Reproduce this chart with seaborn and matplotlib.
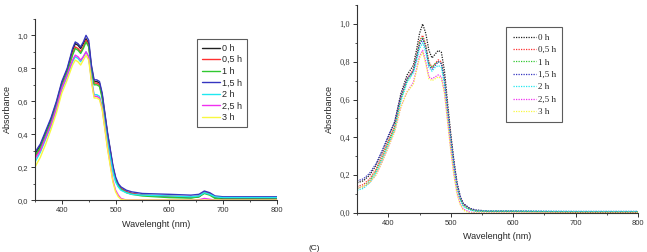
import seaborn as sns
import matplotlib.pyplot as plt
from matplotlib.ticker import MultipleLocator, FixedLocator

sns.set_style('ticks')
plt.rcParams['font.family'] = ['Liberation Sans', 'DejaVu Sans']

labels = ['0 h', '0,5 h', '1 h', '1,5 h', '2 h', '2,5 h', '3 h']
colors = ['#202020', '#ff3030', '#30c830', '#3535c0', '#20e8f0', '#f030f0', '#f8f840']

# left panel (solid lines)
wl_a = [350, 360, 370, 380, 390, 400, 410, 420, 425, 430, 435, 440, 445, 450, 455, 460,
        465, 470, 475, 480, 485, 490, 495, 500, 505, 510, 520, 530, 550, 600, 640, 655,
        665, 675, 685, 700, 750, 800]
a_0h = [0.28, 0.33, 0.41, 0.49, 0.59, 0.71, 0.79, 0.91, 0.95, 0.94, 0.92, 0.95, 0.98, 0.95, 0.81, 0.72,
        0.72, 0.71, 0.64, 0.52, 0.40, 0.30, 0.20, 0.13, 0.09, 0.07, 0.05, 0.04, 0.03, 0.02, 0.015, 0.02,
        0.045, 0.035, 0.015, 0.01, 0.01, 0.01]
a_05h = [0.26, 0.31, 0.39, 0.47, 0.57, 0.69, 0.77, 0.89, 0.93, 0.92, 0.90, 0.93, 0.97, 0.94, 0.80, 0.71,
         0.71, 0.70, 0.63, 0.51, 0.40, 0.30, 0.20, 0.13, 0.09, 0.07, 0.05, 0.04, 0.03, 0.025, 0.02, 0.025,
         0.05, 0.04, 0.02, 0.015, 0.015, 0.015]
a_1h = [0.27, 0.32, 0.40, 0.48, 0.58, 0.70, 0.78, 0.88, 0.92, 0.91, 0.89, 0.92, 0.96, 0.93, 0.79, 0.70,
        0.70, 0.69, 0.62, 0.50, 0.39, 0.29, 0.19, 0.12, 0.085, 0.065, 0.045, 0.035, 0.025, 0.015, 0.012, 0.02,
        0.04, 0.03, 0.01, 0.005, 0.005, 0.005]
a_15h = [0.29, 0.34, 0.42, 0.50, 0.60, 0.72, 0.80, 0.92, 0.96, 0.95, 0.93, 0.96, 1.00, 0.97, 0.82, 0.73,
         0.73, 0.72, 0.65, 0.53, 0.41, 0.31, 0.21, 0.14, 0.10, 0.08, 0.06, 0.05, 0.04, 0.035, 0.03, 0.035,
         0.055, 0.045, 0.025, 0.02, 0.02, 0.02]
a_2h = [0.23, 0.29, 0.37, 0.45, 0.55, 0.67, 0.75, 0.84, 0.87, 0.86, 0.84, 0.87, 0.90, 0.87, 0.74, 0.64,
        0.64, 0.63, 0.57, 0.46, 0.35, 0.26, 0.17, 0.11, 0.08, 0.06, 0.045, 0.035, 0.03, 0.025, 0.02, 0.025,
        0.045, 0.035, 0.02, 0.015, 0.015, 0.015]
a_25h = [0.25, 0.30, 0.38, 0.46, 0.56, 0.68, 0.76, 0.85, 0.88, 0.87, 0.85, 0.87, 0.90, 0.87, 0.73, 0.63,
         0.63, 0.62, 0.56, 0.44, 0.32, 0.22, 0.12, 0.06, 0.03, 0.01, 0.0, 0.0, 0.0, 0.0, 0.0, 0.002,
         0.01, 0.005, 0.0, 0.0, 0.0, 0.0]
a_3h = [0.20, 0.26, 0.34, 0.43, 0.53, 0.65, 0.73, 0.82, 0.85, 0.84, 0.82, 0.85, 0.88, 0.85, 0.72, 0.62,
        0.62, 0.61, 0.55, 0.43, 0.31, 0.21, 0.11, 0.05, 0.02, 0.005, 0.0, 0.0, 0.0, 0.0, 0.0, 0.0,
        0.0, 0.0, 0.0, 0.0, 0.0, 0.0]

# right panel (dotted lines)
wl_b = [350, 360, 370, 380, 390, 400, 410, 420, 430, 440, 445, 450, 455, 460, 465, 470,
        475, 480, 485, 490, 495, 500, 505, 510, 515, 520, 530, 540, 560, 600, 700, 800]
b_0h = [0.16, 0.17, 0.20, 0.25, 0.32, 0.40, 0.48, 0.63, 0.73, 0.78, 0.86, 0.95, 1.00, 0.95, 0.86, 0.82,
        0.84, 0.86, 0.85, 0.75, 0.58, 0.42, 0.28, 0.16, 0.09, 0.05, 0.025, 0.015, 0.01, 0.01, 0.005, 0.005]
b_05h = [0.14, 0.15, 0.18, 0.23, 0.30, 0.38, 0.46, 0.61, 0.71, 0.76, 0.83, 0.91, 0.94, 0.89, 0.80, 0.77,
         0.79, 0.81, 0.80, 0.71, 0.55, 0.40, 0.26, 0.15, 0.08, 0.045, 0.02, 0.01, 0.008, 0.008, 0.005, 0.005]
b_1h = [0.13, 0.14, 0.17, 0.22, 0.29, 0.37, 0.45, 0.60, 0.70, 0.75, 0.82, 0.90, 0.93, 0.88, 0.79, 0.77,
        0.79, 0.80, 0.79, 0.70, 0.54, 0.39, 0.25, 0.14, 0.08, 0.04, 0.02, 0.01, 0.008, 0.008, 0.005, 0.005]
b_15h = [0.17, 0.18, 0.21, 0.26, 0.33, 0.41, 0.48, 0.62, 0.71, 0.75, 0.82, 0.89, 0.92, 0.87, 0.78, 0.76,
         0.78, 0.80, 0.79, 0.71, 0.55, 0.40, 0.27, 0.16, 0.09, 0.05, 0.025, 0.015, 0.01, 0.01, 0.008, 0.008]
b_2h = [0.12, 0.13, 0.16, 0.21, 0.28, 0.36, 0.44, 0.59, 0.69, 0.74, 0.80, 0.87, 0.90, 0.85, 0.77, 0.75,
        0.77, 0.78, 0.77, 0.68, 0.52, 0.37, 0.24, 0.13, 0.07, 0.035, 0.015, 0.01, 0.01, 0.01, 0.008, 0.008]
b_25h = [0.13, 0.14, 0.16, 0.20, 0.27, 0.35, 0.43, 0.56, 0.64, 0.69, 0.76, 0.83, 0.86, 0.80, 0.72, 0.71,
         0.72, 0.73, 0.72, 0.64, 0.49, 0.34, 0.21, 0.11, 0.05, 0.02, 0.005, 0.0, 0.0, 0.0, 0.0, 0.0]
b_3h = [0.13, 0.14, 0.16, 0.20, 0.27, 0.35, 0.43, 0.56, 0.64, 0.68, 0.75, 0.82, 0.85, 0.79, 0.71, 0.70,
        0.71, 0.72, 0.71, 0.63, 0.48, 0.33, 0.20, 0.10, 0.045, 0.015, 0.0, 0.0, 0.0, 0.0, 0.0, 0.0]

y_ticks = [0.0, 0.2, 0.4, 0.6, 0.8, 1.0]
y_ticklabels = ['0,0', '0,2', '0,4', '0,6', '0,8', '1,0']
x_ticks = [400, 500, 600, 700, 800]

fig = plt.figure(figsize=(6.47, 2.52), dpi=100)
ax1 = fig.add_axes([0.054, 0.206, 0.374, 0.719])
ax2 = fig.add_axes([0.552, 0.155, 0.434, 0.825])

for ys, lab, col in zip([a_0h, a_05h, a_1h, a_15h, a_2h, a_25h, a_3h], labels, colors):
    sns.lineplot(x=wl_a, y=ys, color=col, label=lab, linewidth=1.0, ax=ax1)
for ys, lab, col in zip([b_0h, b_05h, b_1h, b_15h, b_2h, b_25h, b_3h], labels, colors):
    sns.lineplot(x=wl_b, y=ys, color=col, label=lab, linewidth=0.9, linestyle=(0, (1, 1)), ax=ax2)

for ax, serif in [(ax1, False), (ax2, True)]:
    ax.set_xlim(350, 800)
    ax.set_ylim(0, 1.1)
    ax.xaxis.set_major_locator(FixedLocator(x_ticks))
    ax.xaxis.set_minor_locator(MultipleLocator(50))
    ax.yaxis.set_major_locator(FixedLocator(y_ticks))
    ax.yaxis.set_minor_locator(MultipleLocator(0.1))
    ax.set_yticklabels(y_ticklabels)
    ax.tick_params(which='major', direction='out', length=3, width=0.7, labelsize=5.5, pad=2, colors='#333333')
    ax.tick_params(which='minor', direction='out', length=1.6, width=0.6, colors='#333333')
    if serif:
        for t in ax.get_yticklabels():
            t.set_family('Liberation Serif')
            t.set_size(6)
    sns.despine(ax=ax)
    for s in ['left', 'bottom']:
        ax.spines[s].set_color('#333333')
        ax.spines[s].set_linewidth(0.8)
    ax.set_xlabel('Wavelenght (nm)', fontsize=6.5, labelpad=4)
    ax.set_ylabel('Absorbance', fontsize=6.5, labelpad=4)

leg1 = ax1.legend(loc='upper left', bbox_to_anchor=(0.650, 0.915), fontsize=6.5, frameon=True,
                  fancybox=False, edgecolor='#333333', handlelength=2.0, handletextpad=0.3,
                  labelspacing=0.28, borderpad=0.55)
leg1.get_frame().set_linewidth(0.8)
leg2 = ax2.legend(loc='upper left', bbox_to_anchor=(0.515, 0.915), frameon=True,
                  fancybox=False, edgecolor='#333333', handlelength=2.6, handletextpad=0.2,
                  labelspacing=0.45, borderpad=0.7, prop={'family': 'Liberation Serif', 'size': 6.5})
leg2.get_frame().set_linewidth(0.8)

fig.text(0.477, 0.0, '(C)', fontsize=6, va='bottom', ha='left')

fig.savefig('out.png', dpi=100)
